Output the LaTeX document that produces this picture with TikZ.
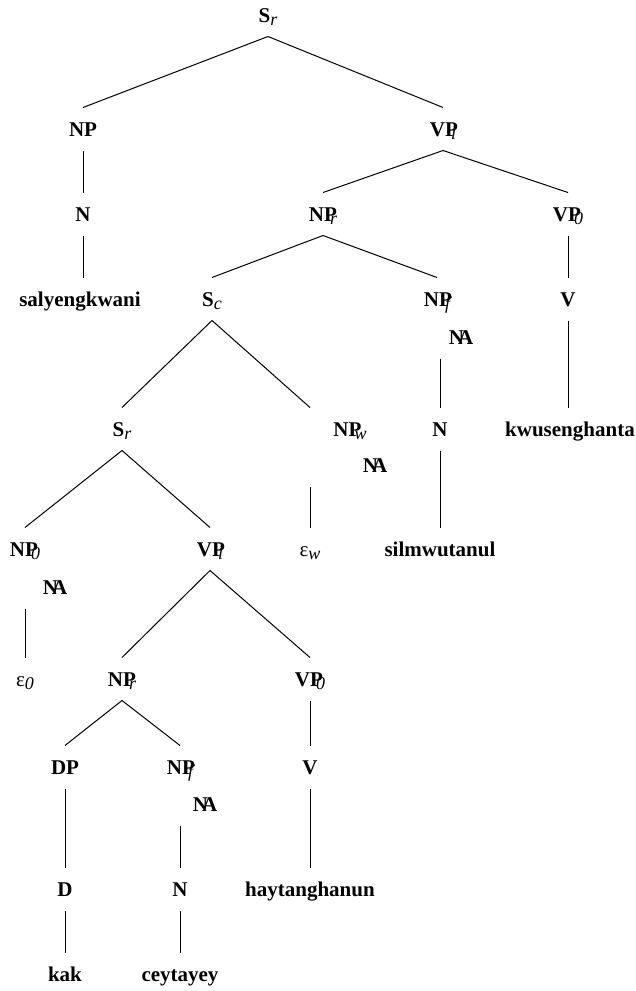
\documentclass[tikz,border=0pt]{standalone}
\usepackage{fontspec}
\setmainfont{Liberation Serif}
\newcommand{\catsub}[2]{#1\kern-0.33em\raisebox{-0.4ex}{\small\mdseries\itshape #2}}
\newcommand{\catS}[1]{\textbf{S}\raisebox{-0.4ex}{\small\mdseries\itshape #1}}
\newcommand{\nullA}{N\kern-0.28em A}
\begin{document}
\begin{tikzpicture}[x=0.5pt,y=-0.5pt,line width=0.5pt,
  lbl/.style={font=\fontsize{10.5}{12}\selectfont\bfseries,anchor=base,inner sep=0pt,text height=14pt,text depth=7pt},
  eps/.style={lbl,font=\fontsize{10.5}{12}\selectfont\mdseries}]
  \useasboundingbox (0,0) rectangle (636,991);
  % row 1
  \node[lbl] (sA) at (268,22) {\catS{r}};
  % row 2
  \node[lbl] (np1) at (83,136) {NP};
  \node[lbl] (vp1) at (443,136) {\catsub{VP}{l}};
  % row 3
  \node[lbl] (n1) at (83,221) {N};
  \node[lbl] (npr1) at (323,221) {\catsub{NP}{r}};
  \node[lbl] (vp01) at (568,221) {\catsub{VP}{0}};
  % row 4
  \node[lbl] (w1) at (80,306) {salyengkwani};
  \node[lbl] (sc) at (212,306) {\catS{c}};
  \node[lbl] (npf1) at (437,306) {\catsub{NP}{f}};
  \node[lbl] (na1) at (461,344) {\nullA};
  \node[lbl] (v1) at (568,306) {V};
  % row 5
  \node[lbl] (sB) at (122,436) {\catS{r}};
  \node[lbl] (npw) at (350,436) {\catsub{NP}{w}};
  \node[lbl] (na2) at (375,472) {\nullA};
  \node[lbl] (n2) at (440,436) {N};
  \node[lbl] (w2) at (570,436) {kwusenghanta};
  % row 6
  \node[lbl] (np0) at (25,556) {\catsub{NP}{0}};
  \node[lbl] (na3) at (55,594) {\nullA};
  \node[lbl] (vp2) at (210,556) {\catsub{VP}{l}};
  \node[eps] (epsw) at (310,556) {ε\raisebox{-0.4ex}{\small\itshape w}};
  \node[lbl] (w3) at (440,556) {silmwutanul};
  % row 7
  \node[eps] (eps0) at (25,686) {ε\raisebox{-0.4ex}{\small\itshape 0}};
  \node[lbl] (npr2) at (122,686) {\catsub{NP}{r}};
  \node[lbl] (vp02) at (310,686) {\catsub{VP}{0}};
  % row 8
  \node[lbl] (dp) at (65,774) {DP};
  \node[lbl] (npf2) at (180,774) {\catsub{NP}{f}};
  \node[lbl] (na4) at (205,811) {\nullA};
  \node[lbl] (v2) at (310,774) {V};
  % row 9
  \node[lbl] (d) at (65,896) {D};
  \node[lbl] (n3) at (180,896) {N};
  \node[lbl] (w4) at (310,896) {haytanghanun};
  % row 10
  \node[lbl] (w5) at (65,981) {kak};
  \node[lbl] (w6) at (180,981) {ceytayey};
  % branches
  \draw (sA.south) -- (np1.north);
  \draw (sA.south) -- (vp1.north);
  \draw (np1.south) -- (n1.north);
  \draw (vp1.south) -- (npr1.north);
  \draw (vp1.south) -- (vp01.north);
  \draw (n1.south) -- (n1.south |- w1.north);
  \draw (npr1.south) -- (sc.north);
  \draw (npr1.south) -- (npf1.north);
  \draw (v1.north |- vp01.south) -- (v1.north);
  \draw (n2.north |- na1.south) -- (n2.north);
  \draw (v1.south) -- (v1.south |- w2.north);
  \draw (sc.south) -- (epsw.north |- npw.north);
  \draw (sc.south) -- (sB.north);
  \draw (sB.south) -- (np0.north);
  \draw (sB.south) -- (vp2.north);
  \draw (epsw.north |- na2.south) -- (epsw.north);
  \draw (n2.south) -- (w3.north);
  \draw (np0.south |- na3.south) -- (np0.south |- eps0.north);
  \draw (vp2.south) -- (npr2.north);
  \draw (vp2.south) -- (vp02.north);
  \draw (npr2.south) -- (dp.north);
  \draw (npr2.south) -- (npf2.north);
  \draw (v2.north |- vp02.south) -- (v2.north);
  \draw (dp.south) -- (d.north);
  \draw (npf2.south |- na4.south) -- (n3.north);
  \draw (v2.south) -- (w4.north);
  \draw (d.south) -- (w5.north);
  \draw (n3.south) -- (w6.north);
\end{tikzpicture}
\end{document}
